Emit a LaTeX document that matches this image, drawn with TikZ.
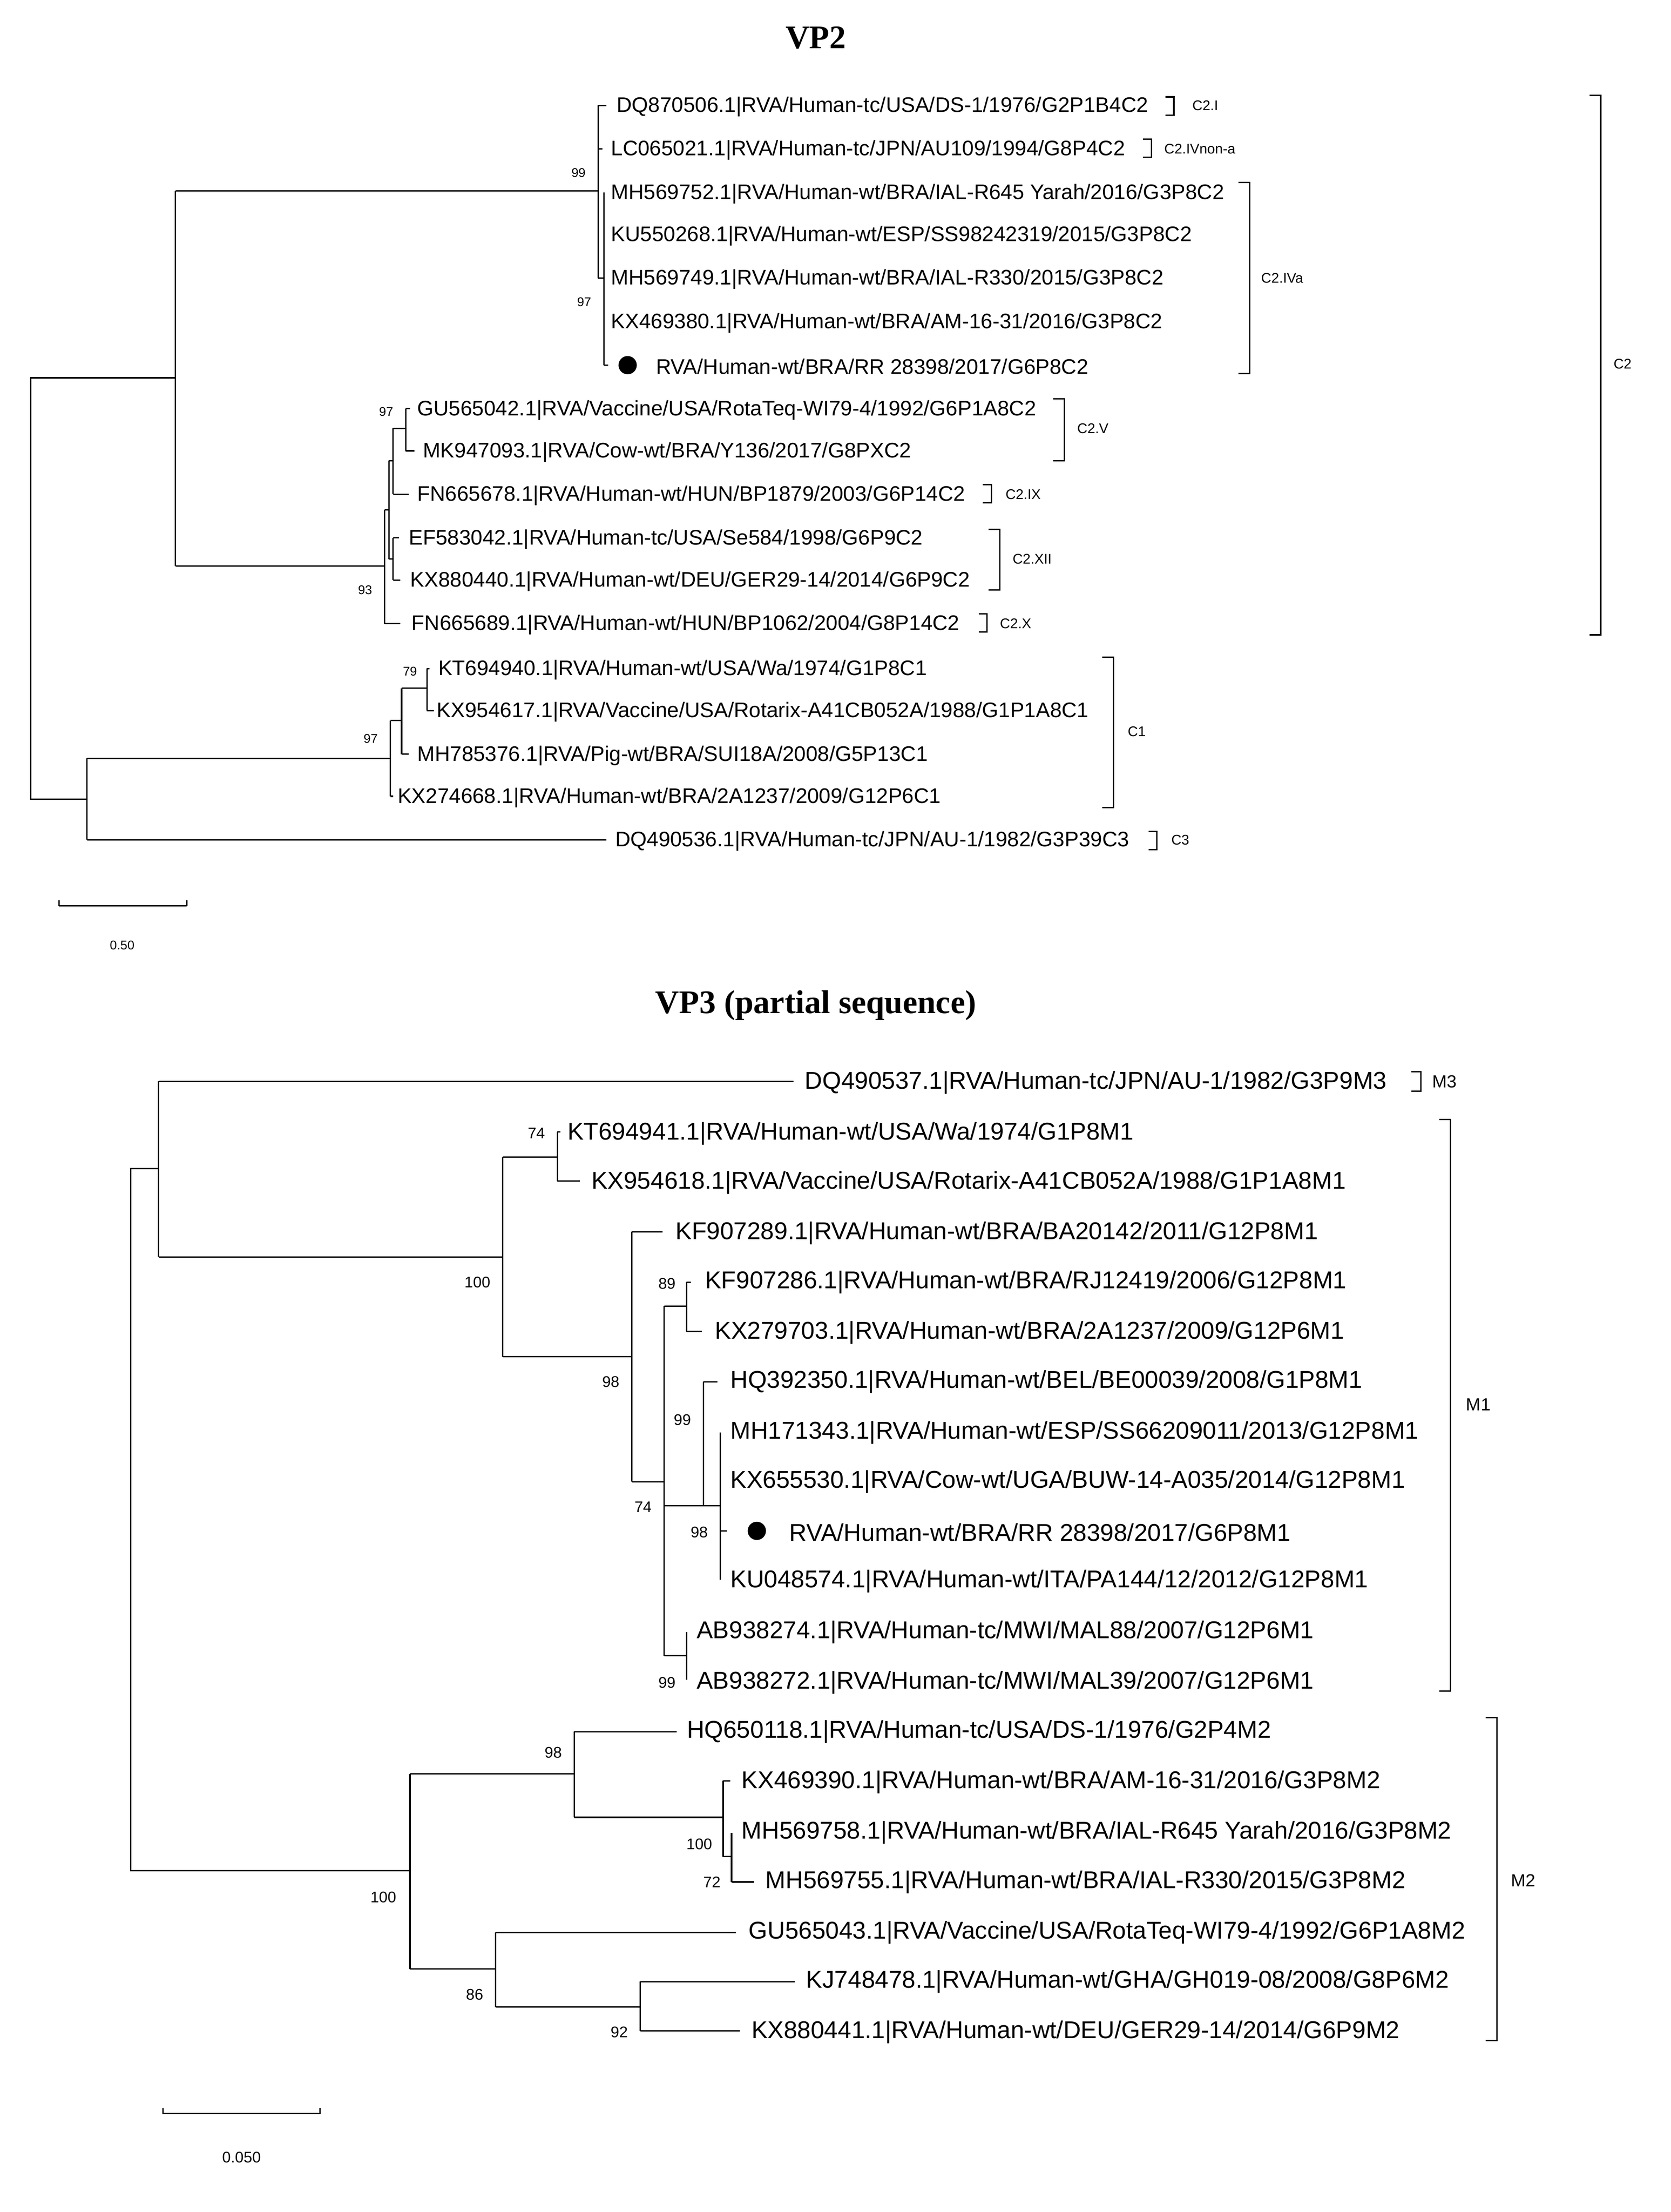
\documentclass[tikz,border=0pt]{standalone}
\usepackage{fontspec}
\setmainfont{Liberation Sans}
\newfontfamily\titlefont{Liberation Serif}
\tikzset{
  br/.style={line width=1pt},
  lfa/.style={anchor=west,inner sep=0pt,font=\fontsize{15}{16}\selectfont},
  lfb/.style={anchor=west,inner sep=0pt,font=\fontsize{17.3}{18}\selectfont},
  bsa/.style={inner sep=0pt,font=\fontsize{9}{10}\selectfont},
  bsb/.style={inner sep=0pt,font=\fontsize{11}{12}\selectfont},
  cla/.style={anchor=west,inner sep=0pt,font=\fontsize{10}{11}\selectfont},
  clb/.style={anchor=west,inner sep=0pt,font=\fontsize{12.5}{13}\selectfont},
  ttl/.style={inner sep=0pt,font=\titlefont\bfseries\fontsize{23.5}{25}\selectfont},
  dot/.style={circle,fill=black,inner sep=0pt,minimum size=13pt}
}
\begin{document}
\begin{tikzpicture}[x=1pt,y=-1pt]
\useasboundingbox (0,0) rectangle (1190,1575);
\fill[white] (0,0) rectangle (1190,1575);
% ================= VP2 =================
\node[ttl] (t1) at (581,27) {VP2};
\draw[br] (62,569) -- (22,569) -- (22,269) -- (125,269);
\draw[br] (125,136) -- (125,403);
\draw[br] (125,136) -- (426,136);
\draw[br] (426,75) -- (426,198);
\draw[br] (426,75) -- (432,75);
\draw[br] (426,106) -- (429,106);
\draw[br] (426,198) -- (430,198);
\draw[br] (430,137) -- (430,260);
\draw[br] (430,260) -- (433,260);
\node[lfa] (a1) at (439,76) {DQ870506.1|RVA/Human-tc/USA/DS-1/1976/G2P1B4C2};
\node[lfa] (a2) at (435,107) {LC065021.1|RVA/Human-tc/JPN/AU109/1994/G8P4C2};
\node[lfa] (a3) at (435,138) {MH569752.1|RVA/Human-wt/BRA/IAL-R645 Yarah/2016/G3P8C2};
\node[lfa] (a4) at (435,168) {KU550268.1|RVA/Human-wt/ESP/SS98242319/2015/G3P8C2};
\node[lfa] (a5) at (435,199) {MH569749.1|RVA/Human-wt/BRA/IAL-R330/2015/G3P8C2};
\node[lfa] (a6) at (435,230) {KX469380.1|RVA/Human-wt/BRA/AM-16-31/2016/G3P8C2};
\node[dot] (d1) at (447,260) {};
\node[lfa] (a7) at (467,261) {RVA/Human-wt/BRA/RR 28398/2017/G6P8C2};
\node[bsa] at (412,123) {99};
\node[bsa] at (416,215) {97};
\draw[br] (125,403) -- (274,403);
\draw[br] (274,363) -- (274,444);
\draw[br] (274,444) -- (285,444);
\draw[br] (274,363) -- (277,363);
\draw[br] (277,328) -- (277,398);
\draw[br] (277,328) -- (280,328);
\draw[br] (280,305) -- (280,352);
\draw[br] (280,352) -- (291,352);
\draw[br] (280,305) -- (289,305);
\draw[br] (289,291) -- (289,321);
\draw[br] (289,291) -- (292,291);
\draw[br] (289,321) -- (295,321);
\draw[br] (277,398) -- (280,398);
\draw[br] (280,383) -- (280,413);
\draw[br] (280,383) -- (284,383);
\draw[br] (280,413) -- (285,413);
\node[lfa] (b1) at (297,292) {GU565042.1|RVA/Vaccine/USA/RotaTeq-WI79-4/1992/G6P1A8C2};
\node[lfa] (b2) at (301,322) {MK947093.1|RVA/Cow-wt/BRA/Y136/2017/G8PXC2};
\node[lfa] (b3) at (297,353) {FN665678.1|RVA/Human-wt/HUN/BP1879/2003/G6P14C2};
\node[lfa] (b4) at (291,384) {EF583042.1|RVA/Human-tc/USA/Se584/1998/G6P9C2};
\node[lfa] (b5) at (292,414) {KX880440.1|RVA/Human-wt/DEU/GER29-14/2014/G6P9C2};
\node[lfa] (b6) at (293,445) {FN665689.1|RVA/Human-wt/HUN/BP1062/2004/G8P14C2};
\node[bsa] at (275,293) {97};
\node[bsa] at (260,420) {93};
\draw[br] (62,540) -- (62,598);
\draw[br] (62,598) -- (432,598);
\draw[br] (62,540) -- (278,540);
\draw[br] (278,513) -- (278,567);
\draw[br] (278,567) -- (280,567);
\draw[br] (278,513) -- (286,513);
\draw[br] (286,490) -- (286,537);
\draw[br] (286,537) -- (291,537);
\draw[br] (286,490) -- (304,490);
\draw[br] (304,476) -- (304,506);
\draw[br] (304,476) -- (306,476);
\draw[br] (304,506) -- (309,506);
\node[lfa] (c1) at (312,477) {KT694940.1|RVA/Human-wt/USA/Wa/1974/G1P8C1};
\node[lfa] (c2) at (311,507) {KX954617.1|RVA/Vaccine/USA/Rotarix-A41CB052A/1988/G1P1A8C1};
\node[lfa] (c3) at (297,538) {MH785376.1|RVA/Pig-wt/BRA/SUI18A/2008/G5P13C1};
\node[lfa] (c4) at (283,568) {KX274668.1|RVA/Human-wt/BRA/2A1237/2009/G12P6C1};
\node[lfa] (c5) at (438,599) {DQ490536.1|RVA/Human-tc/JPN/AU-1/1982/G3P39C3};
\node[bsa] at (292,478) {79};
\node[bsa] at (264,526) {97};
\draw[br] (830,69) -- (836,69) -- (836,82) -- (830,82);
\node[cla] at (849,75) {C2.I};
\draw[br] (814,99) -- (820,99) -- (820,112) -- (814,112);
\node[cla] at (829,106) {C2.IVnon-a};
\draw[br] (882,130) -- (890,130) -- (890,266) -- (882,266);
\node[cla] at (898,198) {C2.IVa};
\draw[br] (750,284) -- (758,284) -- (758,328) -- (750,328);
\node[cla] at (767,305) {C2.V};
\draw[br] (700,345) -- (706,345) -- (706,358) -- (700,358);
\node[cla] at (716,352) {C2.IX};
\draw[br] (704,377) -- (712,377) -- (712,420) -- (704,420);
\node[cla] at (721,398) {C2.XII};
\draw[br] (697,437) -- (703,437) -- (703,450) -- (697,450);
\node[cla] at (712,444) {C2.X};
\draw[br] (1132,68) -- (1140,68) -- (1140,452) -- (1132,452);
\node[cla] at (1149,259) {C2};
\draw[br] (785,468) -- (793,468) -- (793,575) -- (785,575);
\node[cla] at (803,521) {C1};
\draw[br] (818,592) -- (824,592) -- (824,605) -- (818,605);
\node[cla] at (834,598) {C3};
\draw[br] (42,645) -- (133,645);
\draw[br] (42,645) -- (42,641); \draw[br] (133,645) -- (133,641);
\node[bsa] at (87,673) {0.50};
% ================= VP3 =================
\node[ttl] (t2) at (581,716) {VP3 (partial sequence)};
\draw[br] (292,1332) -- (93,1332) -- (93,832) -- (113,832);
\draw[br] (113,770) -- (113,895);
\draw[br] (113,770) -- (565,770);
\draw[br] (113,895) -- (358,895);
\draw[br] (358,824) -- (358,966);
\draw[br] (358,824) -- (397,824);
\draw[br] (397,806) -- (397,841);
\draw[br] (397,806) -- (399,806);
\draw[br] (397,841) -- (413,841);
\draw[br] (358,966) -- (450,966);
\draw[br] (450,877) -- (450,1055);
\draw[br] (450,877) -- (472,877);
\draw[br] (450,1055) -- (473,1055);
\draw[br] (473,930) -- (473,1179);
\draw[br] (473,930) -- (489,930);
\draw[br] (489,913) -- (489,948);
\draw[br] (489,913) -- (492,913);
\draw[br] (489,948) -- (500,948);
\draw[br] (473,1072) -- (501,1072);
\draw[br] (501,984) -- (501,1072);
\draw[br] (501,984) -- (511,984);
\draw[br] (501,1072) -- (513,1072);
\draw[br] (513,1020) -- (513,1125);
\draw[br] (513,1090) -- (518,1090);
\draw[br] (473,1179) -- (489,1179);
\draw[br] (489,1162) -- (489,1196);
\node[lfb] (m1) at (573,771) {DQ490537.1|RVA/Human-tc/JPN/AU-1/1982/G3P9M3};
\node[lfb] (m2) at (404,807) {KT694941.1|RVA/Human-wt/USA/Wa/1974/G1P8M1};
\node[lfb] (m3) at (421,842) {KX954618.1|RVA/Vaccine/USA/Rotarix-A41CB052A/1988/G1P1A8M1};
\node[lfb] (m4) at (481,878) {KF907289.1|RVA/Human-wt/BRA/BA20142/2011/G12P8M1};
\node[lfb] (m5) at (502,913) {KF907286.1|RVA/Human-wt/BRA/RJ12419/2006/G12P8M1};
\node[lfb] (m6) at (509,949) {KX279703.1|RVA/Human-wt/BRA/2A1237/2009/G12P6M1};
\node[lfb] (m7) at (520,984) {HQ392350.1|RVA/Human-wt/BEL/BE00039/2008/G1P8M1};
\node[lfb] (m8) at (520,1020) {MH171343.1|RVA/Human-wt/ESP/SS66209011/2013/G12P8M1};
\node[lfb] (m9) at (520,1055) {KX655530.1|RVA/Cow-wt/UGA/BUW-14-A035/2014/G12P8M1};
\node[dot] (d2) at (539,1090) {};
\node[lfb] (m10) at (562,1091) {RVA/Human-wt/BRA/RR 28398/2017/G6P8M1};
\node[lfb] (m11) at (520,1126) {KU048574.1|RVA/Human-wt/ITA/PA144/12/2012/G12P8M1};
\node[lfb] (m12) at (496,1162) {AB938274.1|RVA/Human-tc/MWI/MAL88/2007/G12P6M1};
\node[lfb] (m13) at (496,1198) {AB938272.1|RVA/Human-tc/MWI/MAL39/2007/G12P6M1};
\node[bsb] at (382,807) {74};
\node[bsb] at (340,913) {100};
\node[bsb] at (435,984) {98};
\node[bsb] at (475,914) {89};
\node[bsb] at (486,1011) {99};
\node[bsb] at (458,1073) {74};
\node[bsb] at (498,1091) {98};
\node[bsb] at (475,1198) {99};
\draw[br] (292,1263) -- (292,1402);
\draw[br] (292,1263) -- (409,1263);
\draw[br] (409,1233) -- (409,1294);
\draw[br] (409,1233) -- (482,1233);
\draw[br] (409,1294) -- (515,1294);
\draw[br] (515,1268) -- (515,1322);
\draw[br] (515,1268) -- (520,1268);
\draw[br] (515,1322) -- (521,1322);
\draw[br] (521,1305) -- (521,1340);
\draw[br] (521,1340) -- (537,1340);
\draw[br] (292,1402) -- (353,1402);
\draw[br] (353,1376) -- (353,1429);
\draw[br] (353,1376) -- (524,1376);
\draw[br] (353,1429) -- (456,1429);
\draw[br] (456,1411) -- (456,1446);
\draw[br] (456,1411) -- (566,1411);
\draw[br] (456,1446) -- (527,1446);
\node[lfb] (n1) at (489,1233) {HQ650118.1|RVA/Human-tc/USA/DS-1/1976/G2P4M2};
\node[lfb] (n2) at (528,1269) {KX469390.1|RVA/Human-wt/BRA/AM-16-31/2016/G3P8M2};
\node[lfb] (n3) at (528,1305) {MH569758.1|RVA/Human-wt/BRA/IAL-R645 Yarah/2016/G3P8M2};
\node[lfb] (n4) at (545,1340) {MH569755.1|RVA/Human-wt/BRA/IAL-R330/2015/G3P8M2};
\node[lfb] (n5) at (533,1376) {GU565043.1|RVA/Vaccine/USA/RotaTeq-WI79-4/1992/G6P1A8M2};
\node[lfb] (n6) at (574,1411) {KJ748478.1|RVA/Human-wt/GHA/GH019-08/2008/G8P6M2};
\node[lfb] (n7) at (535,1447) {KX880441.1|RVA/Human-wt/DEU/GER29-14/2014/G6P9M2};
\node[bsb] at (394,1248) {98};
\node[bsb] at (273,1351) {100};
\node[bsb] at (498,1313) {100};
\node[bsb] at (507,1340) {72};
\node[bsb] at (338,1420) {86};
\node[bsb] at (441,1447) {92};
\draw[br] (1005,763) -- (1012,763) -- (1012,777) -- (1005,777);
\node[clb] at (1020,770) {M3};
\draw[br] (1025,797) -- (1033,797) -- (1033,1204) -- (1025,1204);
\node[clb] at (1044,1000) {M1};
\draw[br] (1058,1223) -- (1066,1223) -- (1066,1453) -- (1058,1453);
\node[clb] at (1076,1339) {M2};
\draw[br] (116,1505) -- (228,1505);
\draw[br] (116,1505) -- (116,1501); \draw[br] (228,1505) -- (228,1501);
\node[bsb] at (172,1536) {0.050};
\end{tikzpicture}
\end{document}
